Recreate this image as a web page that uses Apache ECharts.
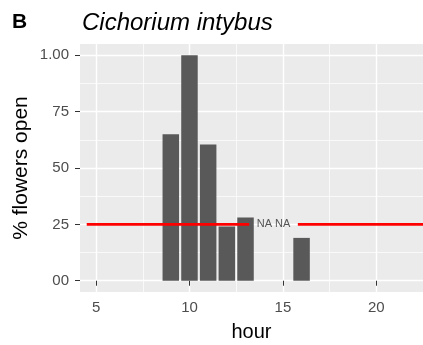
<!DOCTYPE html>
<html>
<head>
<meta charset="utf-8">
<script src="https://cdn.jsdelivr.net/npm/echarts@6/dist/echarts.min.js"></script>
<style>
  html, body { margin: 0; padding: 0; background: #ffffff; }
  #chart { width: 423px; height: 345px; }
</style>
</head>
<body>
<div id="chart"></div>
<script>
// Hourly share of open flowers
const hours = [9, 10, 11, 12, 13, 16];
const flowersOpen = [0.65, 1.00, 0.604, 0.24, 0.28, 0.19];

// Axis ticks and their printed labels
const xTicks = [5, 10, 15, 20];
const xMinorTicks = [7.5, 12.5, 17.5, 22.5];
const yTicks = [0, 0.25, 0.5, 0.75, 1];
const yTickLabels = ['00', '25', '50', '75', '1.00'];
const yMinorTicks = [0.125, 0.375, 0.625, 0.875];

// Reference line with its inline label
const refLevel = 0.25;
const refFrom = 4.5;
const refTo = 24.5;
const refLabel = 'NA NA';

const FONT = '"Liberation Sans", Arial, Helvetica, sans-serif';
const labelFontSize = 11;

function textWidth(txt, size, family) {
  const ctx = document.createElement('canvas').getContext('2d');
  ctx.font = size + 'px ' + family;
  return ctx.measureText(txt).width;
}
const refGapHalf = textWidth(refLabel, labelFontSize, FONT) / 2 + 7.5;

const chart = echarts.init(document.getElementById('chart'), null, { renderer: 'canvas' });

const panelBg = '#ebebeb';
const tickColor = '#333333';
const labelColor = '#4d4d4d';

const option = {
  backgroundColor: '#ffffff',
  animation: false,
  title: [
    {
      text: 'B', left: 7, top: 7,
      textStyle: { fontFamily: FONT, fontWeight: 'bold', fontSize: 21, color: '#000000' }
    },
    {
      text: 'Cichorium intybus', left: 77, top: 6,
      textStyle: { fontFamily: FONT, fontStyle: 'italic', fontWeight: 'normal', fontSize: 24, color: '#000000' }
    }
  ],
  grid: {
    left: 80, right: 0, top: 44, bottom: 53,
    outerBoundsMode: 'none',
    containLabel: false,
    show: true, backgroundColor: panelBg, borderWidth: 0
  },
  xAxis: [
    {
      type: 'value', min: 4.14, max: 22.5,
      name: 'hour', nameLocation: 'middle', nameGap: 30,
      nameMoveOverlap: false,
      nameTextStyle: { fontFamily: FONT, fontSize: 20, color: '#000000' },
      axisLine: { show: false },
      axisTick: { show: true, customValues: xTicks, length: 5, lineStyle: { color: tickColor, width: 1 } },
      axisLabel: { customValues: xTicks, margin: 8, fontFamily: FONT, fontSize: 15, color: labelColor },
      splitLine: { show: true, lineStyle: { color: '#ffffff', width: 1.4 } }
    },
    {
      type: 'value', min: 4.14, max: 22.5, position: 'bottom',
      axisLine: { show: false },
      axisTick: { show: false, customValues: xMinorTicks },
      axisLabel: { show: false, customValues: xMinorTicks },
      splitLine: { show: true, lineStyle: { color: '#ffffff', width: 0.7 } }
    }
  ],
  yAxis: [
    {
      type: 'value', min: -0.05, max: 1.05,
      name: '% flowers open', nameLocation: 'middle', nameGap: 48,
      nameMoveOverlap: false,
      nameTextStyle: { fontFamily: FONT, fontSize: 21, color: '#000000' },
      axisLine: { show: false },
      axisTick: { show: true, customValues: yTicks, length: 5, lineStyle: { color: tickColor, width: 1 } },
      axisLabel: {
        customValues: yTicks, margin: 11, fontFamily: FONT, fontSize: 15, color: labelColor,
        formatter: function (v) {
          const i = yTicks.findIndex(t => Math.abs(t - v) < 1e-9);
          return i >= 0 ? yTickLabels[i] : '';
        }
      },
      splitLine: { show: true, lineStyle: { color: '#ffffff', width: 1.4 } }
    },
    {
      type: 'value', min: -0.05, max: 1.05, position: 'left',
      axisLine: { show: false },
      axisTick: { show: false, customValues: yMinorTicks },
      axisLabel: { show: false, customValues: yMinorTicks },
      splitLine: { show: true, lineStyle: { color: '#ffffff', width: 0.7 } }
    }
  ],
  series: [
    {
      type: 'bar',
      xAxisIndex: 0, yAxisIndex: 0,
      barWidth: 16.5,
      itemStyle: { color: '#595959' },
      data: hours.map((h, i) => [h, flowersOpen[i]])
    },
    {
      type: 'custom',
      xAxisIndex: 0, yAxisIndex: 0,
      z: 5,
      encode: { x: [0, 1], y: 2 },
      data: [[refFrom, refTo, refLevel]],
      renderItem: function (params, api) {
        const p0 = api.coord([api.value(0), api.value(2)]);
        const p1 = api.coord([api.value(1), api.value(2)]);
        const mid = (p0[0] + p1[0]) / 2;
        const lineStyle = { stroke: '#ff0000', lineWidth: 2.6 };
        return {
          type: 'group',
          children: [
            { type: 'line', shape: { x1: p0[0], y1: p0[1], x2: mid - refGapHalf, y2: p0[1] }, style: lineStyle },
            { type: 'line', shape: { x1: mid + refGapHalf, y1: p1[1], x2: p1[0], y2: p1[1] }, style: lineStyle },
            {
              type: 'text',
              style: {
                text: refLabel, x: mid, y: p0[1],
                align: 'center', verticalAlign: 'middle',
                font: labelFontSize + 'px ' + FONT, fill: '#555555'
              }
            }
          ]
        };
      }
    }
  ]
};

chart.setOption(option);
</script>
</body>
</html>
